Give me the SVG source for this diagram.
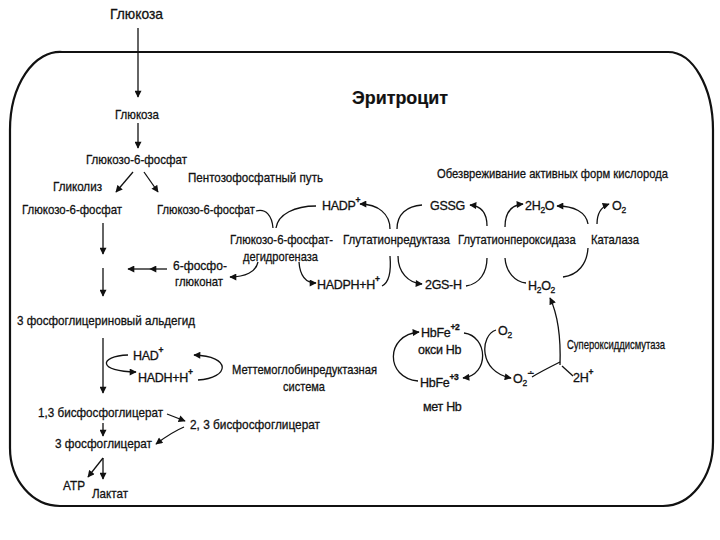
<svg xmlns="http://www.w3.org/2000/svg" width="720" height="540" viewBox="0 0 720 540">
<style>
text{font-family:"Liberation Sans Narrow","Liberation Sans",Arial,sans-serif;font-size:13.5px;fill:#111;stroke:#111;stroke-width:0.3}
.big{font-size:15px}
.title{font-size:18px;font-weight:bold;stroke-width:0.2}
.f{font-size:12.5px;letter-spacing:-0.3px}
.sup{font-size:8.5px;font-weight:bold}
.sub{font-size:8.5px}
.dm{font-family:"DejaVu Sans",sans-serif;font-size:9px}
.c{fill:none;stroke:#111;stroke-width:1.3}
.a{marker-end:url(#ah)}
.border{fill:none;stroke:#111;stroke-width:2.2}
</style>
<defs>
<marker id="ah" viewBox="0 0 10 10" refX="9" refY="5" markerWidth="8" markerHeight="7" markerUnits="userSpaceOnUse" orient="auto"><path d="M0,0 L10,5 L0,10 z" fill="#111"/></marker>
</defs>
<rect width="720" height="540" fill="#fff"/>
<path class="border" d="M62,52 H668 A45,78 0 0 1 713,130 V442 A50,64 0 0 1 663,506 H60 A50,58 0 0 1 10,448 V130 A50,78 0 0 1 62,52 Z"/>

<g id="connectors">
<path class="c a" d="M138,28 V97"/>
<path class="c a" d="M138,123 V148"/>
<path class="c a" d="M133,172 L116,192"/>
<path class="c a" d="M144,172 L158,192"/>
<path class="c a" d="M103,223 V254"/>
<path class="c a" d="M103,268 V296"/>
<path class="c a" d="M167,269 H150"/>
<path class="c a" d="M150,269 H128"/>
<path class="c a" d="M103,338 V393"/>
<path class="c a" d="M128,355 C98,356 98,372 136,372"/>
<path class="c a" d="M198,380 C230,378 232,356 194,355"/>
<path class="c a" d="M167,414 L185,421"/>
<path class="c a" d="M184,427 Q172,432 156,444"/>
<path class="c a" d="M103,423 V436"/>
<path class="c a" d="M103,458 L88,477"/>
<path class="c a" d="M103,458 V479"/>
<path class="c" d="M256,211 C266,208 272,216 273,228"/>
<path class="c" d="M276,228 C278,214 295,206 316,206"/>
<path class="c a" d="M258,262 C256,272 245,277 230,277"/>
<path class="c a" d="M299,262 C300,276 305,283 316,283"/>
<path class="c a" d="M390,229 C390,214 378,204 360,204"/>
<path class="c" d="M382,286 C390,282 391,268 390,256"/>
<path class="c" d="M397,229 C397,214 407,206 422,205"/>
<path class="c a" d="M398,256 C398,272 408,283 422,284"/>
<path class="c" d="M466,286 C480,284 487,272 487,258"/>
<path class="c a" d="M487,226 C487,214 482,206 470,205"/>
<path class="c a" d="M505,227 C505,214 510,205 523,204"/>
<path class="c" d="M505,258 C506,272 515,282 526,283"/>
<path class="c a" d="M588,224 C586,212 574,206 557,206"/>
<path class="c a" d="M597,224 C597,214 601,207 609,204"/>
<path class="c" d="M588,248 C587,264 578,275 563,277"/>
<path class="c a" d="M560,365 C561,335 558,315 550,298"/>
<path class="c" d="M532,377 C540,372 552,366 560,362"/>
<path class="c" d="M573,376 L562,366"/>
<path class="c a" d="M418,381 C385,378 385,335 419,332"/>
<path class="c a" d="M464,333 C488,336 490,375 463,378"/>
<path class="c a" d="M496,330 C480,335 478,372 511,378"/>
</g>

<g id="glucose-ext"><text class="big" x="110" y="19" textLength="53" lengthAdjust="spacingAndGlyphs">Глюкоза</text></g>
<g id="title"><text class="title" x="352" y="104" textLength="96" lengthAdjust="spacingAndGlyphs">Эритроцит</text></g>
<g id="glucose"><text x="115" y="119" textLength="44" lengthAdjust="spacingAndGlyphs">Глюкоза</text></g>
<g id="g6p"><text x="86" y="164" textLength="101" lengthAdjust="spacingAndGlyphs">Глюкозо-6-фосфат</text></g>
<g id="glycolysis"><text x="53" y="191" textLength="49" lengthAdjust="spacingAndGlyphs">Гликолиз</text></g>
<g id="ppp"><text x="188" y="182" textLength="135" lengthAdjust="spacingAndGlyphs">Пентозофосфатный путь</text></g>
<g id="ros"><text x="437" y="178" textLength="231" lengthAdjust="spacingAndGlyphs">Обезвреживание активных форм кислорода</text></g>
<g id="g6p-left"><text x="22" y="214" textLength="100" lengthAdjust="spacingAndGlyphs">Глюкозо-6-фосфат</text></g>
<g id="g6p-right"><text x="157" y="214" textLength="98" lengthAdjust="spacingAndGlyphs">Глюкозо-6-фосфат</text></g>
<g id="nadp"><text class="f" x="322" y="210">HADP<tspan class="sup" dy="-7">+</tspan></text></g>
<g id="gssg"><text class="f" x="430" y="210">GSSG</text></g>
<g id="h2o"><text class="f" x="525" y="210">2H<tspan class="sub" dy="3">2</tspan><tspan dy="-3">O</tspan></text></g>
<g id="o2-top"><text class="f" x="612" y="210">O<tspan class="sub" dy="3">2</tspan></text></g>
<g id="g6pd"><text x="230" y="244" textLength="103" lengthAdjust="spacingAndGlyphs">Глюкозо-6-фосфат-</text><text x="243" y="261" textLength="75" lengthAdjust="spacingAndGlyphs">дегидрогеназа</text></g>
<g id="gr"><text x="343" y="244" textLength="107" lengthAdjust="spacingAndGlyphs">Глутатионредуктаза</text></g>
<g id="gpx"><text transform="translate(458,244) scale(0.8,1)" x="0" y="0" textLength="147" lengthAdjust="spacingAndGlyphs">Глутатионпероксидаза</text></g>
<g id="catalase"><text x="591" y="244" textLength="48" lengthAdjust="spacingAndGlyphs">Каталаза</text></g>
<g id="pgluconate"><text x="173" y="270" textLength="54" lengthAdjust="spacingAndGlyphs">6-фосфо-</text><text x="175" y="286" textLength="48" lengthAdjust="spacingAndGlyphs">глюконат</text></g>
<g id="nadph"><text class="f" x="317" y="289">HADPH+H<tspan class="sup" dy="-7">+</tspan></text></g>
<g id="gsh"><text class="f" x="425" y="289">2GS-H</text></g>
<g id="h2o2"><text class="f" x="528" y="290">H<tspan class="sub" dy="3">2</tspan><tspan dy="-3">O</tspan><tspan class="sub" dy="3">2</tspan></text></g>
<g id="gap"><text x="17" y="325" textLength="178" lengthAdjust="spacingAndGlyphs">3 фосфоглицериновый альдегид</text></g>
<g id="hbfe2"><text class="f" x="421" y="337">HbFe<tspan class="sup" dy="-7">+2</tspan></text><text class="f" x="418" y="354">окси Hb</text></g>
<g id="o2-mid"><text class="f" x="498" y="335">O<tspan class="sub" dy="3">2</tspan></text></g>
<g id="sod"><text x="567" y="349" textLength="98" lengthAdjust="spacingAndGlyphs">Супероксиддисмутаза</text></g>
<g id="nad"><text class="f" x="133" y="360">HAD<tspan class="sup" dy="-7">+</tspan></text></g>
<g id="nadh"><text class="f" x="138" y="382">HADH+H<tspan class="sup" dy="-7">+</tspan></text></g>
<g id="metred"><text x="232" y="374" textLength="145" lengthAdjust="spacingAndGlyphs">Меттемоглобинредуктазная</text><text x="283" y="391" textLength="42" lengthAdjust="spacingAndGlyphs">система</text></g>
<g id="hbfe3"><text class="f" x="420" y="387">HbFe<tspan class="sup" dy="-7">+3</tspan></text><text class="f" x="423" y="411">мет Hb</text></g>
<g id="superoxide"><text class="f" x="513" y="383">O<tspan class="sub" dy="3">2</tspan><tspan class="dm" dy="-10">∸</tspan></text></g>
<g id="protons"><text class="f" x="573" y="382">2H<tspan class="sup" dy="-7">+</tspan></text></g>
<g id="bpg13"><text x="38" y="417" textLength="125" lengthAdjust="spacingAndGlyphs">1,3 бисфосфоглицерат</text></g>
<g id="bpg23"><text x="190" y="429" textLength="130" lengthAdjust="spacingAndGlyphs">2, 3 бисфосфоглицерат</text></g>
<g id="pg3"><text x="55" y="448" textLength="97" lengthAdjust="spacingAndGlyphs">3 фосфоглицерат</text></g>
<g id="atp"><text x="63" y="490" textLength="22" lengthAdjust="spacingAndGlyphs">ATP</text></g>
<g id="lactate"><text x="92" y="498" textLength="36" lengthAdjust="spacingAndGlyphs">Лактат</text></g>
</svg>
